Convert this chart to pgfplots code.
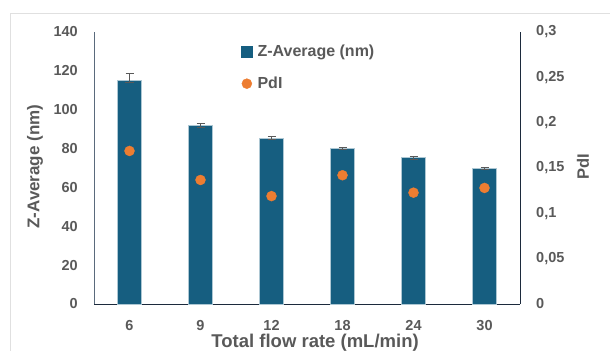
\documentclass[border=0pt]{standalone}
\usepackage{fontspec}
\setmainfont{Liberation Sans}
\usepackage{pgfplots}
\pgfplotsset{compat=1.18}
\definecolor{barblue}{HTML}{165E80}
\definecolor{dotorange}{HTML}{ED7D31}
\definecolor{txt}{HTML}{595959}
\definecolor{laxis}{HTML}{5A6A7C}
\definecolor{daxis}{HTML}{1C2A3C}
\begin{document}
\begin{tikzpicture}
\useasboundingbox (0bp,0bp) rectangle (610bp,351bp);
\draw[black!12, line width=1bp] (10bp,-20bp) rectangle (640bp,337bp);
\begin{axis}[
  at={(94bp,47bp)}, anchor=south west, scale only axis, width=426bp, height=272bp,
  xmin=-0.5, xmax=5.5, ymin=0, ymax=140,
  axis x line*=bottom, axis y line*=left,
  x axis line style={daxis, line width=1bp, -},
  y axis line style={laxis, line width=1bp, -},
  xtick={0,...,5}, xticklabels={6,9,12,18,24,30},
  ytick={0,20,...,140}, yticklabels={0,20,40,60,80,100,120,140},
  major tick length=0pt,
  tick label style={font=\fontsize{14.5bp}{17bp}\selectfont\bfseries, text=txt, inner sep=0pt},
  xticklabel style={yshift=-16bp},
  yticklabel style={xshift=-16bp},
  xlabel={Total flow rate (mL/min)}, ylabel={Z-Average (nm)},
  every axis x label/.style={at={(axis description cs:0.519,-0.141)}, anchor=center, font=\fontsize{18.5bp}{21bp}\selectfont\bfseries, text=txt},
  every axis y label/.style={at={(axis description cs:0,0.505)}, xshift=-59bp, rotate=90, anchor=center, font=\fontsize{17bp}{20bp}\selectfont\bfseries, text=txt},
  clip=false,
]
\addplot[ybar, bar width=24bp, fill=barblue, draw=barblue!35!white, line width=0.6bp,
  error bars/.cd, y dir=both, y explicit,
  error bar style={txt, line width=0.8bp},
  error mark options={txt, rotate=90, mark size=4bp, line width=0.8bp}]
 coordinates {
  (0,114.9) += (0,3.6) -= (0,0.9)
  (1,92.0) +- (0,0.9)
  (2,85.4) +- (0,0.9)
  (3,80.1) +- (0,0.7)
  (4,75.4) +- (0,0.8)
  (5,69.7) +- (0,0.6)
 };
\end{axis}
\begin{axis}[
  at={(94bp,47bp)}, anchor=south west, scale only axis, width=426bp, height=272bp,
  xmin=-0.5, xmax=5.5, ymin=0, ymax=0.3,
  axis x line=none, axis y line*=right,
  y axis line style={daxis, line width=1bp, -},
  ytick={0,0.05,0.1,0.15,0.2,0.25,0.3},
  yticklabels={0,{0,05},{0,1},{0,15},{0,2},{0,25},{0,3}},
  major tick length=0pt,
  tick label style={font=\fontsize{14.5bp}{17bp}\selectfont\bfseries, text=txt, inner sep=0pt},
  yticklabel style={xshift=16bp},
  ylabel={PdI},
  every axis y label/.style={at={(axis description cs:1,0.504)}, xshift=63bp, rotate=90, anchor=center, font=\fontsize{16.5bp}{19bp}\selectfont\bfseries, text=txt},
  legend style={at={(axis description cs:0.345,0.956)}, anchor=north west, draw=none, fill=none,
    inner sep=0pt, font=\fontsize{16bp}{19bp}\selectfont\bfseries, text=txt,
    nodes={inner sep=0pt, text height=12bp, text depth=3bp}, row sep=17bp,
    /tikz/every odd column/.append style={column sep=5bp}},
  legend cell align=left,
  clip=false,
]
\addlegendimage{legend image code/.code={\fill[barblue] (0,-5.5bp) rectangle (11bp,5.5bp);}}
\addlegendentry{Z-Average (nm)}
\addplot[only marks, mark=*, mark size=5bp, color=dotorange,
  legend image code/.code={\fill[dotorange] (5.5bp,0) circle (5bp);}]
 coordinates {(0,0.1688) (1,0.1368) (2,0.119) (3,0.142) (4,0.1228) (5,0.128)};
\addlegendentry{PdI}
\end{axis}
\end{tikzpicture}
\end{document}
